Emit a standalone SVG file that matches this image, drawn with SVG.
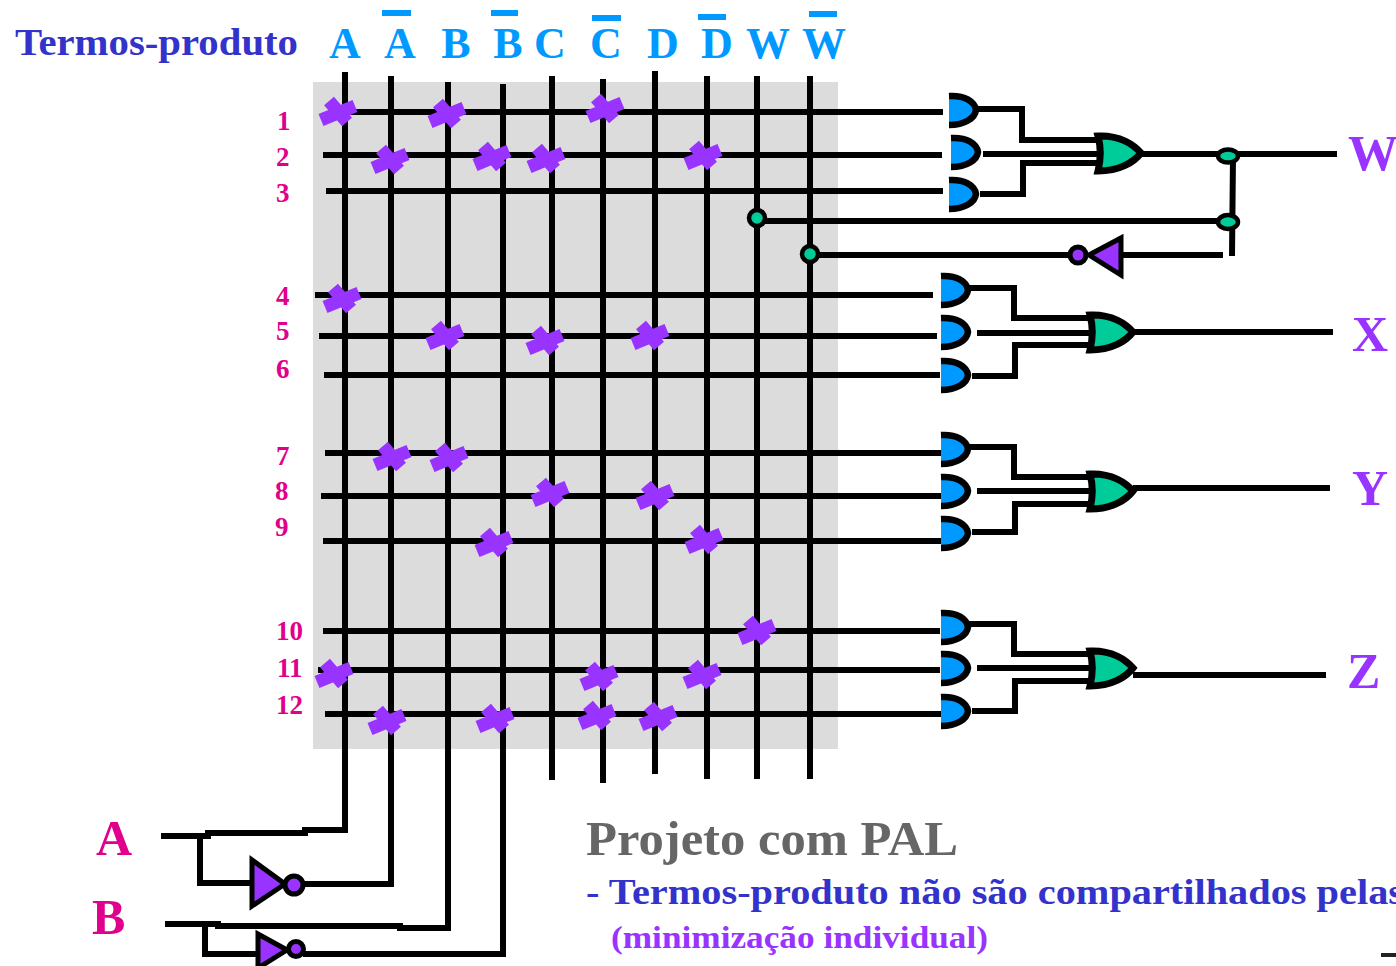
<svg xmlns="http://www.w3.org/2000/svg" width="1396" height="966" viewBox="0 0 1396 966">
<style>
.w{fill:none;stroke:#000;stroke-width:6}
.t{font-family:"Liberation Serif",serif;font-weight:bold}
.c{fill:#0099ff;font-size:44px;text-anchor:middle}
.n{fill:#e0008c;font-size:27px}
.o{fill:#9933ff;font-size:50px}
.io{fill:#e0008c;font-size:50px}
.ov{fill:#0099ff}
.x{fill:none;stroke:#9933ff;stroke-width:13}
.pin{fill:#00cc99;stroke:#000;stroke-width:4.5}
.bub{fill:#9933ff;stroke:#000;stroke-width:5}
.and{fill:#0099ff;stroke:#000;stroke-width:6.5}
.or{fill:#00cc99;stroke:#000;stroke-width:7}
</style>
<defs>
<path id="and" class="and" d="M0 -14C16 -15 26 -8 27 0C26 8 16 15 0 15"/>
<path id="or" class="or" d="M0 -17C22 -18 36 -8 43 0C36 9 22 18 0 18C3 6 3 -6 0 -17Z"/>
<path id="cross" class="x" d="M-17 9L17 -5M-9 -10L9 11"/>
</defs>
<rect x="313" y="82" width="525" height="667" fill="#dcdcdc"/>
<g id="labels">
<text class="t" x="15" y="55" font-size="37.5" fill="#3333cc" textLength="283" lengthAdjust="spacingAndGlyphs">Termos-produto</text>
<text class="t c" x="345" y="58">A</text><text class="t c" x="400" y="58">A</text>
<text class="t c" x="456" y="58">B</text><text class="t c" x="508" y="58">B</text>
<text class="t c" x="550" y="58">C</text><text class="t c" x="606" y="58">C</text>
<text class="t c" x="663" y="58">D</text><text class="t c" x="717" y="58">D</text>
<text class="t c" x="768" y="58">W</text><text class="t c" x="824" y="58">W</text>
<rect class="ov" x="382" y="10" width="29" height="6"/><rect class="ov" x="491" y="10" width="27" height="6"/>
<rect class="ov" x="592" y="15" width="29" height="6"/><rect class="ov" x="698" y="14" width="28" height="6"/>
<rect class="ov" x="809" y="11" width="28" height="6"/>
<text class="t n" x="277" y="130">1</text><text class="t n" x="276" y="166">2</text><text class="t n" x="276" y="202">3</text>
<text class="t n" x="276" y="305">4</text><text class="t n" x="276" y="340">5</text><text class="t n" x="276" y="378">6</text>
<text class="t n" x="276" y="465">7</text><text class="t n" x="275" y="500">8</text><text class="t n" x="275" y="536">9</text>
<text class="t n" x="276" y="640">10</text><text class="t n" x="277" y="677">11</text><text class="t n" x="276" y="714">12</text>
<text class="t o" x="1348" y="170">W</text><text class="t o" x="1352" y="351">X</text>
<text class="t o" x="1352" y="505">Y</text><text class="t o" x="1347" y="688">Z</text>
<text class="t io" x="96" y="855">A</text><text class="t io" x="92" y="934">B</text>
<text class="t" x="586" y="855" font-size="48" fill="#666666" textLength="372" lengthAdjust="spacingAndGlyphs">Projeto com PAL</text>
<text class="t" x="586" y="904" font-size="36" fill="#3333cc" textLength="818" lengthAdjust="spacingAndGlyphs">- Termos-produto não são compartilhados pelas</text>
<text class="t" x="611" y="948" font-size="32" fill="#9933ff" textLength="377" lengthAdjust="spacingAndGlyphs">(minimização individual)</text>
<rect x="1381" y="953" width="15" height="4" fill="#222"/>
</g>
<g id="connectors" class="w">
<path d="M345 72V830H305V833H208V836H161M391 76V884H303M448 82V928H400V926H218V924H165M503 84V954H303"/>
<path d="M552 76V780M603 79V783M655 71V774M707 76V779M757 76V779M810 76V779"/>
<path d="M345 112H943M323 155H942M326 191H943M315 295H933M319 336H937M324 375H940M325 453H942M321 496H942M323 541H942M323 631H940M318 670H940M325 714H942"/>
<path d="M200 836V883H250M205 925V954H256"/>
<path d="M977 109H1022V140H1098M983 154H1098M980 194H1023V163H1098M1140 154H1337M1233 156L1232 256M757 221H1225M810 255H1075M1122 255H1223"/>
<path d="M969 288H1014V318H1090M977 333H1090M972 376H1015V345H1090M1133 332H1333"/>
<path d="M969 447H1014V477H1090M977 491H1090M972 532H1015V504H1090M1133 488H1330"/>
<path d="M969 624H1014V654H1090M977 668H1090M972 711H1015V681H1090M1133 675H1326"/>
</g>
<g id="gate-w">
<use href="#and" x="949" y="110"/><use href="#and" x="951" y="152"/><use href="#and" x="949" y="194"/><use href="#or" x="1098" y="153"/>
<ellipse class="pin" cx="1228" cy="156" rx="10" ry="6.5"/><ellipse class="pin" cx="1228" cy="222" rx="10" ry="7"/>
<circle class="pin" cx="757" cy="218" r="8"/><circle class="pin" cx="810" cy="254" r="8"/>
<circle class="bub" cx="1078" cy="255" r="8"/><path class="bub" d="M1121 238V275L1089 255Z"/>
</g>
<g id="gate-x"><use href="#and" x="941" y="290"/><use href="#and" x="941" y="332"/><use href="#and" x="941" y="375"/><use href="#or" x="1090" y="332"/></g>
<g id="gate-y"><use href="#and" x="941" y="449"/><use href="#and" x="941" y="491"/><use href="#and" x="941" y="533"/><use href="#or" x="1090" y="491"/></g>
<g id="gate-z"><use href="#and" x="941" y="627"/><use href="#and" x="941" y="668"/><use href="#and" x="941" y="711"/><use href="#or" x="1090" y="668"/></g>
<g id="inv-a"><path class="bub" d="M252 860V906L285 884Z"/><circle class="bub" cx="294" cy="885" r="9"/></g>
<g id="inv-b"><path class="bub" d="M258 934V968L287 950Z"/><circle class="bub" cx="296" cy="949" r="7.5"/></g>
<g id="fuses">
<use href="#cross" x="338" y="111"/><use href="#cross" x="447" y="113"/><use href="#cross" x="605" y="108"/>
<use href="#cross" x="390" y="159"/><use href="#cross" x="492" y="156"/><use href="#cross" x="546" y="158"/><use href="#cross" x="703" y="155"/>
<use href="#cross" x="342" y="298"/><use href="#cross" x="445" y="335"/><use href="#cross" x="545" y="340"/><use href="#cross" x="650" y="335"/>
<use href="#cross" x="392" y="456"/><use href="#cross" x="449" y="457"/><use href="#cross" x="550" y="492"/><use href="#cross" x="655" y="495"/>
<use href="#cross" x="494" y="542"/><use href="#cross" x="704" y="539"/><use href="#cross" x="757" y="630"/>
<use href="#cross" x="334" y="673"/><use href="#cross" x="599" y="676"/><use href="#cross" x="702" y="674"/>
<use href="#cross" x="387" y="720"/><use href="#cross" x="495" y="718"/><use href="#cross" x="597" y="715"/><use href="#cross" x="658" y="716"/>
</g>
</svg>
